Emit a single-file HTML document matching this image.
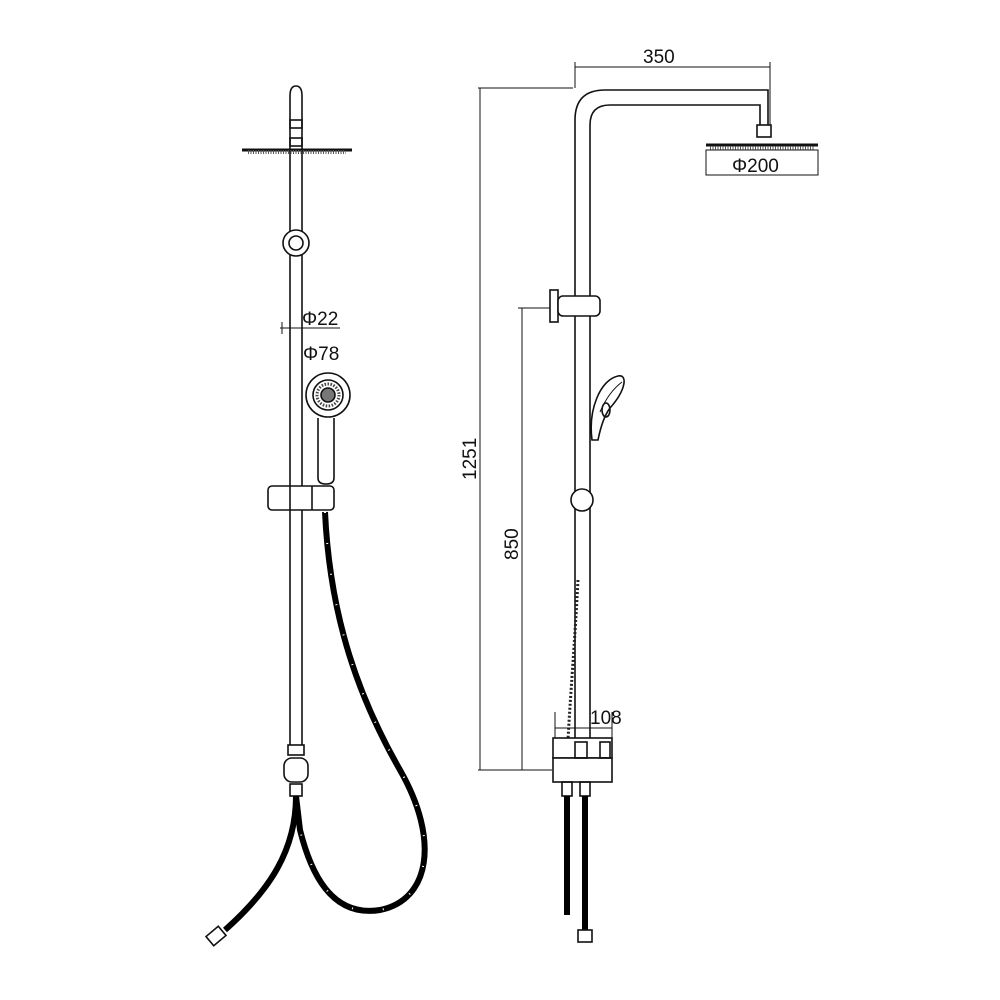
<!DOCTYPE html>
<html><head><meta charset="utf-8"><style>
html,body{margin:0;padding:0;background:#fff;}
svg{display:block;}
text{font-family:"Liberation Sans",sans-serif;font-size:19px;fill:#111;}
</style></head><body>
<svg width="1000" height="1000" viewBox="0 0 1000 1000" xmlns="http://www.w3.org/2000/svg">
<g fill="none" stroke="#111" stroke-width="1.6">
<!-- LEFT FIGURE -->
<path d="M290 96 Q290 86 296 86 Q302 86 302 96 L302 745 M290 96 L290 745"/>
<rect x="290" y="120" width="12" height="8"/>
<rect x="290" y="138" width="12" height="8"/>
<path d="M242 150 L352 150" stroke-width="3"/>
<path d="M248 152 L346 152" stroke="#555" stroke-width="4" stroke-dasharray="1 1.5"/>
<circle cx="296" cy="243" r="13" fill="#fff"/>
<circle cx="296" cy="243" r="7"/>
<line x1="280" y1="328" x2="340" y2="328" stroke-width="1"/>
<line x1="282" y1="322" x2="282" y2="334" stroke-width="1"/>
<circle cx="328" cy="395" r="22" fill="#fff"/>
<circle cx="328" cy="395" r="15"/>
<circle cx="328" cy="395" r="7" fill="#777"/>
<circle cx="328" cy="395" r="11" stroke="#444" stroke-dasharray="1.5 1.5" stroke-width="3"/>
<path d="M318 418 L318 478 Q318 484 326 484 Q334 484 334 478 L334 418"/>
<rect x="268" y="486" width="66" height="24" rx="4" fill="#fff"/>
<line x1="290" y1="486" x2="290" y2="510"/>
<line x1="312" y1="486" x2="312" y2="510"/>
<rect x="288" y="745" width="16" height="10"/>
<rect x="284" y="758" width="24" height="24" rx="8" fill="#fff"/>
<rect x="290" y="784" width="12" height="12"/>
<path d="M325 512 C330 620 360 700 400 770 C440 840 430 900 380 910 C330 918 310 870 300 830 L296 796" stroke="#000" stroke-width="6"/>
<path d="M325 512 C330 620 360 700 400 770 C440 840 430 900 380 910 C330 918 310 870 300 830 L296 796" stroke="#fff" stroke-width="2" stroke-dasharray="1 30"/>
<path d="M296 796 C296 850 270 890 225 930" stroke="#000" stroke-width="6"/>
<rect x="208" y="930" width="16" height="12" transform="rotate(-40 216 936)"/>

<!-- RIGHT FIGURE -->
<path d="M575 770 L575 120 Q575 90 605 90 L768 90 L768 125 M590 770 L590 125 Q590 105 610 105 L760 105 L760 125"/>
<rect x="757" y="125" width="14" height="12"/>
<path d="M706 145 L818 145" stroke-width="3"/>
<path d="M710 148 L814 148" stroke="#555" stroke-width="4" stroke-dasharray="1 1.5"/>
<rect x="706" y="150" width="112" height="25" stroke-width="1"/>
<line x1="575" y1="62" x2="575" y2="88" stroke-width="1"/>
<line x1="770" y1="62" x2="770" y2="125" stroke-width="1"/>
<line x1="575" y1="67" x2="770" y2="67" stroke-width="1"/>
<line x1="478" y1="88" x2="573" y2="88" stroke-width="1"/>
<line x1="480" y1="88" x2="480" y2="770" stroke-width="1"/>
<line x1="478" y1="770" x2="552" y2="770" stroke-width="1"/>
<line x1="518" y1="308" x2="552" y2="308" stroke-width="1"/>
<line x1="522" y1="308" x2="522" y2="770" stroke-width="1"/>
<rect x="550" y="290" width="8" height="32" fill="#fff"/>
<rect x="558" y="296" width="42" height="20" rx="5" fill="#fff"/>
<path d="M592 440 C588 410 600 380 618 376 C628 374 626 390 610 408 C604 416 600 430 598 440 Z" fill="#fff"/>
<path d="M600 412 C606 398 614 388 622 382" stroke-width="1"/>
<ellipse cx="606" cy="410" rx="4" ry="7"/>
<circle cx="582" cy="500" r="11" fill="#fff"/>
<path d="M578 580 C575 640 570 700 568 740" stroke="#222" stroke-width="3" stroke-dasharray="2 2"/>
<line x1="555" y1="712" x2="555" y2="738" stroke-width="1"/>
<line x1="612" y1="712" x2="612" y2="738" stroke-width="1"/>
<line x1="555" y1="728" x2="612" y2="728" stroke-width="1"/>
<rect x="553" y="738" width="59" height="20" fill="#fff"/>
<rect x="553" y="758" width="59" height="24" fill="#fff"/>
<rect x="575" y="742" width="12" height="16"/>
<rect x="600" y="742" width="10" height="16"/>
<rect x="562" y="782" width="10" height="14"/>
<rect x="580" y="782" width="10" height="14"/>
<path d="M567 796 L567 915" stroke="#000" stroke-width="6"/>
<path d="M585 796 L585 930" stroke="#000" stroke-width="6"/>
<rect x="578" y="930" width="14" height="12"/>
</g>
<text x="643" y="63">350</text>
<text x="732" y="172">Φ200</text>
<text x="302" y="325">Φ22</text>
<text x="303" y="360">Φ78</text>
<text x="590" y="724">108</text>
<text transform="translate(476 480) rotate(-90)">1251</text>
<text transform="translate(518 560) rotate(-90)">850</text>
</svg>
</body></html>
